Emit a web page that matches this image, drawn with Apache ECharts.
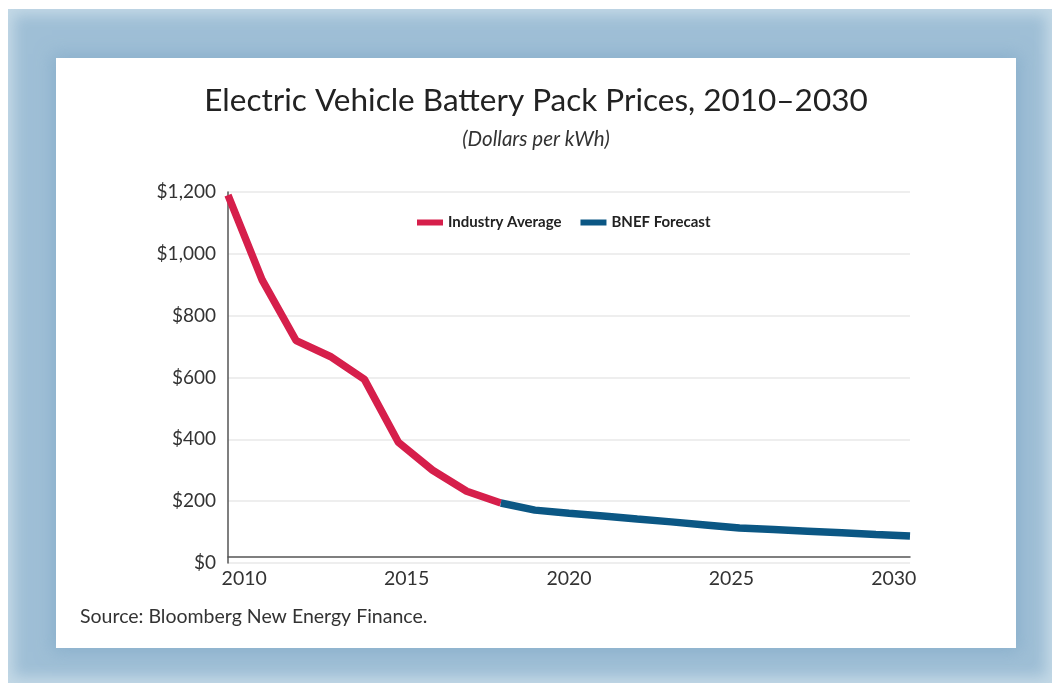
<!DOCTYPE html>
<html>
<head>
<meta charset="utf-8">
<script src="https://cdn.jsdelivr.net/npm/echarts@6/dist/echarts.min.js"></script>
<style>
  html, body { margin: 0; padding: 0; background: #fff; }
  body { width: 1052px; height: 692px; position: relative; overflow: hidden; }
  #frame {
    position: absolute; left: 8px; top: 9px; width: 1044px; height: 674px;
    background: #9fbfd6;
    box-shadow: inset 0 0 14px 6px rgba(200, 220, 232, 0.9);
  }
  #chart {
    position: absolute; left: 56px; top: 58px; width: 960px; height: 590px;
    background: #fff;
    box-shadow: 0 0 16px 4px rgba(130, 170, 200, 0.7);
  }
</style>
</head>
<body>
<div id="frame"></div>
<div id="chart"></div>
<script>
// years on the x axis
const years = ['2010', '2011', '2012', '2013', '2014', '2015', '2016', '2017', '2018', '2019',
  '2020', '2021', '2022', '2023', '2024', '2025', '2026', '2027', '2028', '2029', '2030'];

// dollars per kWh
const industryAverage = [1190, 916, 719, 668, 594, 390, 300, 232, 194,
  null, null, null, null, null, null, null, null, null, null, null, null];
const bnefForecast = [null, null, null, null, null, null, null, null, 194,
  171, 161, 152, 142, 133, 123, 113, 108, 103, 98, 92, 87];

const yTicks = { min: 0, max: 1200, step: 200 };

const fontFamily = 'Lato, "Open Sans", sans-serif';
const chart = echarts.init(document.getElementById('chart'));

const fmtDollar = (v) => '$' + v.toLocaleString('en-US');

const option = {
  animation: false,
  backgroundColor: '#fff',
  title: [
    {
      text: 'Electric Vehicle Battery Pack Prices, 2010–2030',
      left: 'center',
      top: 27,
      padding: 0,
      textStyle: { fontFamily, fontSize: 31.5, fontWeight: 'normal', color: '#222' }
    },
    {
      text: '(Dollars per kWh)',
      left: 'center',
      top: 71,
      padding: 0,
      textStyle: { fontFamily, fontSize: 20.5, fontStyle: 'italic', fontWeight: 'normal', color: '#333' }
    },
    {
      text: 'Source: Bloomberg New Energy Finance.',
      left: 24,
      top: 549,
      padding: 0,
      textStyle: { fontFamily, fontSize: 19.5, fontWeight: 'normal', color: '#333' }
    }
  ],
  legend: {
    left: 361,
    top: 157,
    padding: 0,
    icon: 'rect',
    itemWidth: 26,
    itemHeight: 6,
    itemGap: 19,
    textStyle: { fontFamily, fontSize: 15, fontWeight: 'bold', color: '#222' },
    data: ['Industry Average', 'BNEF Forecast']
  },
  grid: { left: 172, right: 106, top: 134, bottom: 85 },
  xAxis: [
    {
      type: 'category',
      position: 'bottom',
      data: years,
      boundaryGap: false,
      offset: -6,
      axisLine: { lineStyle: { color: '#555', width: 1.5 } },
      axisTick: { show: false },
      axisLabel: { show: false },
      splitLine: { show: false }
    },
    {
      // labels sit in the centre of each year band
      type: 'category',
      position: 'bottom',
      data: years,
      boundaryGap: true,
      offset: -6,
      axisLine: { show: false },
      axisTick: { show: false },
      axisLabel: { interval: 4, margin: 12, fontFamily, fontSize: 19.5, color: '#333' },
      splitLine: { show: false }
    }
  ],
  yAxis: {
    type: 'value',
    min: yTicks.min,
    max: yTicks.max,
    interval: yTicks.step,
    axisLine: { show: true, lineStyle: { color: '#555', width: 1.5 } },
    axisTick: { show: false },
    axisLabel: { margin: 12, fontFamily, fontSize: 19, color: '#333', formatter: fmtDollar },
    splitLine: { lineStyle: { color: '#e9e9e9', width: 1.5 } }
  },
  series: [
    {
      name: 'Industry Average',
      type: 'line',
      xAxisIndex: 0,
      data: industryAverage,
      showSymbol: false,
      itemStyle: { color: '#d61f4b' },
      lineStyle: { color: '#d61f4b', width: 7.5 }
    },
    {
      name: 'BNEF Forecast',
      type: 'line',
      xAxisIndex: 0,
      data: bnefForecast,
      showSymbol: false,
      itemStyle: { color: '#0b5784' },
      lineStyle: { color: '#0b5784', width: 7.5 }
    }
  ]
};

chart.setOption(option);
</script>
</body>
</html>
